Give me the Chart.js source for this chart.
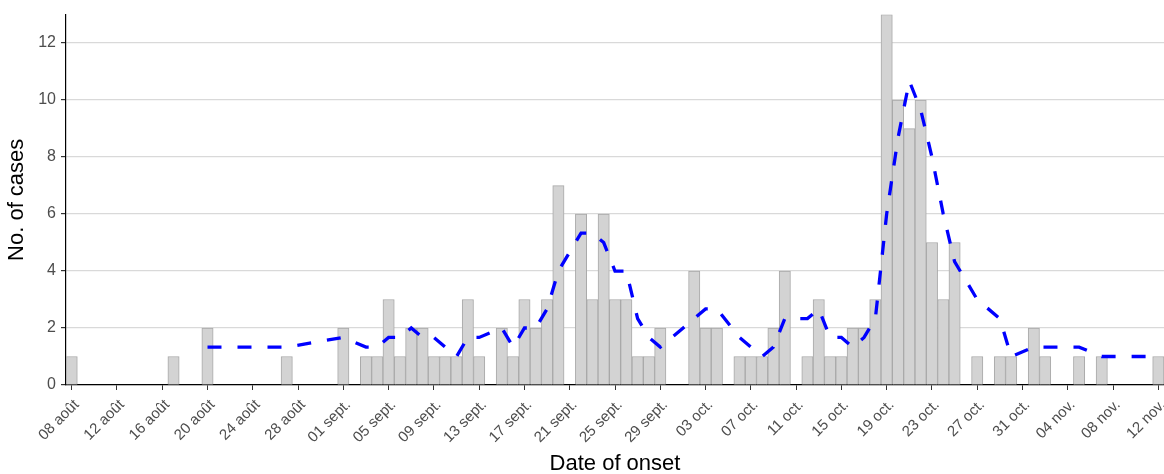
<!DOCTYPE html>
<html>
<head>
<meta charset="utf-8">
<script src="https://cdn.jsdelivr.net/npm/chart.js@4.4.0/dist/chart.umd.min.js"></script>
<style>
html, body { margin: 0; padding: 0; background: #fff; }
#wrap { width: 1164px; height: 474px; }
</style>
</head>
<body>
<div id="wrap"><canvas id="graph-onset"></canvas></div>
<script>
const $graphOnset = document.querySelector("#graph-onset");

// one category per day, 08 août -> 12 nov.
const nDays = 97;
const tickLabels = ["08 août","12 août","16 août","20 août","24 août","28 août","01 sept.","05 sept.","09 sept.","13 sept.","17 sept.","21 sept.","25 sept.","29 sept.","03 oct.","07 oct.","11 oct.","15 oct.","19 oct.","23 oct.","27 oct.","31 oct.","04 nov.","08 nov.","12 nov."];

// days (offset from 08 août) with cases, and the counts
const caseDays   = [0,9,12,19,24,26,27,28,29,30,31,32,33,34,35,36,38,39,40,41,42,43,45,46,47,48,49,50,51,52,55,56,57,59,60,61,62,63,65,66,67,68,69,70,71,72,73,74,75,76,77,78,80,82,83,85,86,89,91,96];
const caseCounts = [1,1,2,1,2,1,1,3,1,2,2,1,1,1,3,1,2,1,3,2,3,7,6,3,6,3,3,1,1,2,4,2,2,1,1,1,2,4,1,3,1,1,2,2,3,13,10,9,10,5,3,5,1,1,1,2,1,1,1,1];

// dashed moving average
const avgDays   = [12,19,24,26,27,28,29,30,31,32,33,34,35,36,38,39,40,41,42,43,45,46,47,48,49,50,51,52,55,56,57,59,60,61,62,63,65,66,67,68,69,70,71,72,73,74,75,76,77,78,80,82,83,85,86,89,91,96];
const avgValues = [1.33,1.33,1.67,1.33,1.33,1.67,1.67,2,1.67,1.67,1.33,1,1.67,1.67,2,1.33,2,2,2.67,4,5.33,5.33,5,4,4,2.33,1.67,1.33,2.33,2.67,2.67,1.67,1.33,1,1.33,2.33,2.33,2.67,1.67,1.67,1.33,1.67,2.33,6,8.67,10.67,9.67,8,6,4.33,3,2.33,1,1.33,1.33,1.33,1,1];

const categories = Array.from({length: nDays}, (_, i) => i);
const barData = categories.map(() => null);
caseDays.forEach((d, k) => { barData[d] = caseCounts[k]; });
const lineData = categories.map(() => null);
avgDays.forEach((d, k) => { lineData[d] = avgValues[k]; });

const fontFam = "'Liberation Sans', Arial, sans-serif";

new Chart($graphOnset, {
    type: 'bar',
    data: {
        labels: categories,
        datasets: [
            {
                type: 'line',
                data: lineData,
                borderColor: '#0000FF',
                borderWidth: 3.3,
                borderDash: [14, 16],
                pointRadius: 0,
                spanGaps: true,
                tension: 0,
                fill: false,
                order: 0
            },
            {
                data: barData,
                backgroundColor: '#D3D3D3',
                borderColor: '#A9A9A9',
                borderWidth: 1,
                barPercentage: 1,
                categoryPercentage: 1,
                order: 1
            }
        ]
    },
    options: {
        responsive: true,
        maintainAspectRatio: false,
        animation: false,
        layout: { padding: { top: 12, right: 0, left: 0, bottom: 0 } },
        plugins: { legend: { display: false }, tooltip: { enabled: false } },
        scales: {
            x: {
                afterFit: s => { s.height = 89; s.paddingLeft = 0; s.paddingRight = 0; },
                border: { display: true, color: '#000', width: 1.2 },
                grid: {
                    offset: false,
                    drawOnChartArea: false,
                    tickLength: 5,
                    tickColor: ctx => ctx.index % 4 === 0 ? '#333' : 'rgba(0,0,0,0)'
                },
                ticks: {
                    autoSkip: false,
                    maxRotation: 45,
                    minRotation: 45,
                    padding: 6,
                    labelOffset: 5,
                    color: '#4D4D4D',
                    font: { family: fontFam, size: 15 },
                    callback: (v, i) => i % 4 === 0 ? tickLabels[i / 4] : ''
                },
                title: {
                    display: true,
                    text: 'Date of onset',
                    color: '#000',
                    font: { family: fontFam, size: 22 },
                    padding: { top: 0, bottom: -3 }
                }
            },
            y: {
                min: 0,
                max: 13,
                afterFit: s => { s.width = 66; },
                border: { display: true, color: '#000', width: 1.2 },
                grid: { color: '#D9D9D9', lineWidth: 1.2, tickLength: 5, tickColor: '#333' },
                ticks: {
                    stepSize: 2,
                    includeBounds: false,
                    padding: 5,
                    color: '#4D4D4D',
                    font: { family: fontFam, size: 16 }
                },
                title: {
                    display: true,
                    text: 'No. of cases',
                    color: '#000',
                    font: { family: fontFam, size: 22 },
                    padding: { top: 4, bottom: 0 }
                }
            }
        }
    }
});
</script>
</body>
</html>
